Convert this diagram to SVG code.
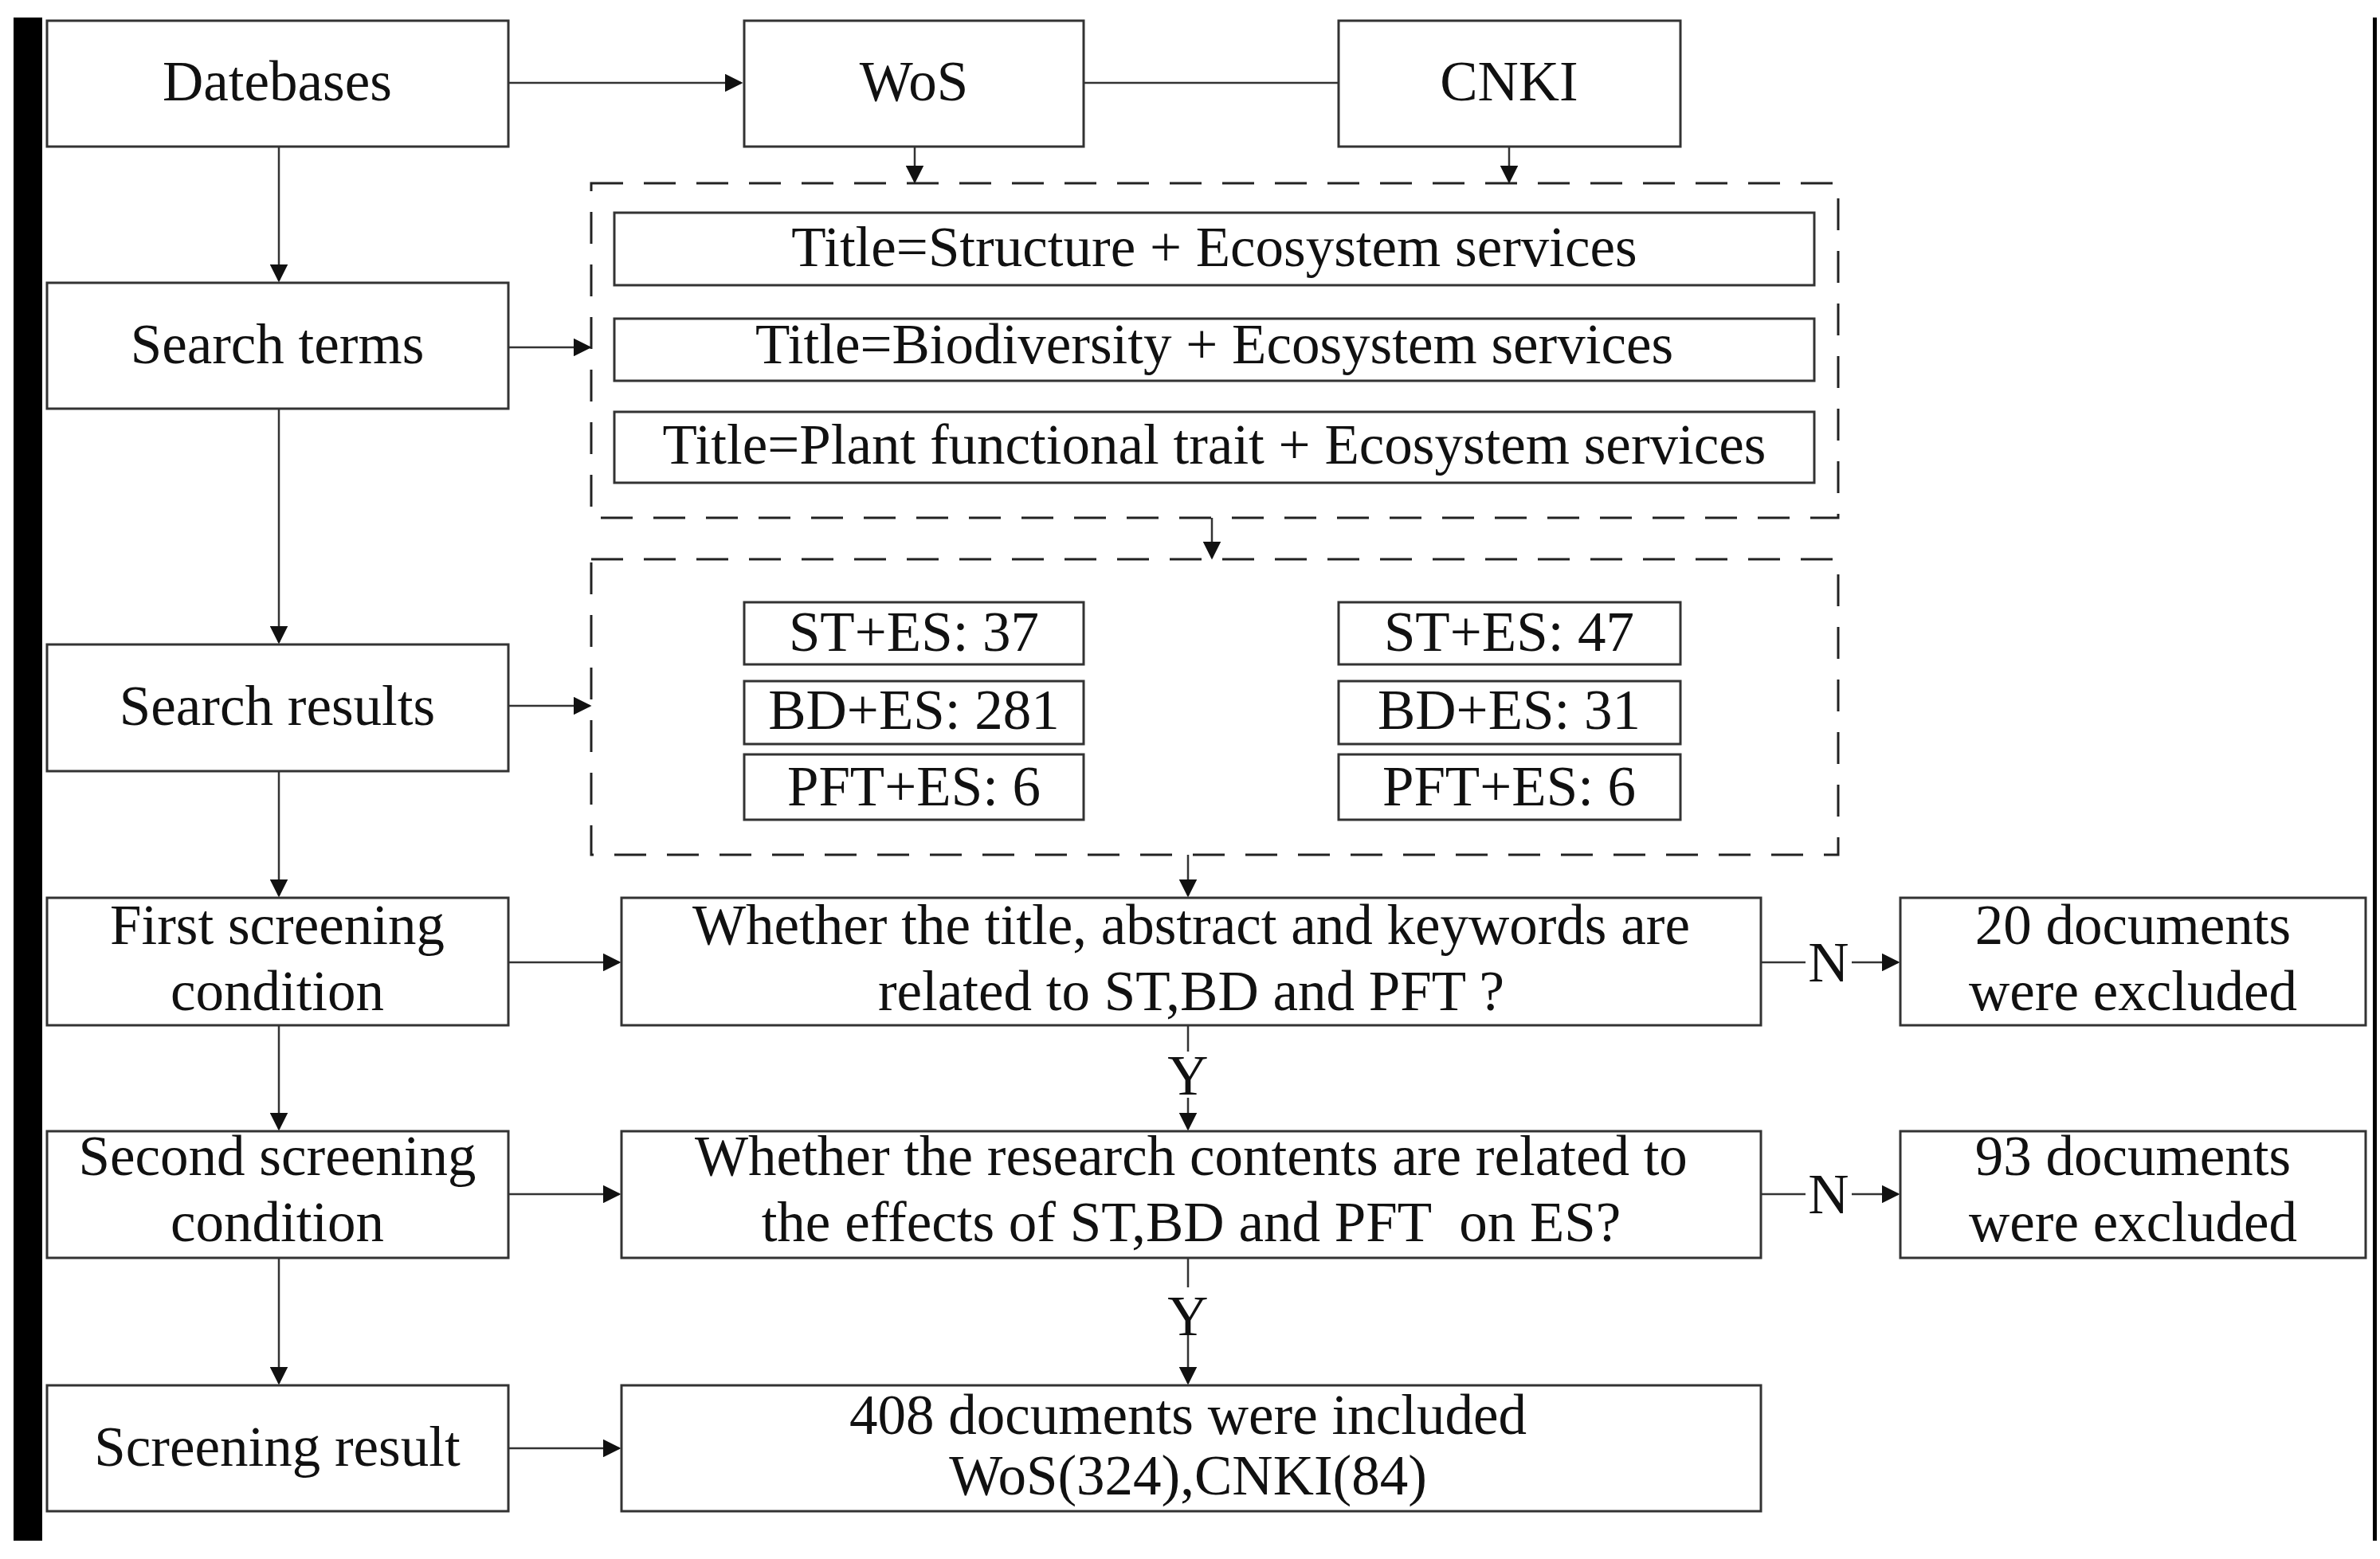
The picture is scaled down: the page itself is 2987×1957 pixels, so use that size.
<svg xmlns="http://www.w3.org/2000/svg" width="2987" height="1957" viewBox="0 0 2987 1957">
<defs>
<style>
.b{fill:#fff;stroke:#333;stroke-width:3}
.d{fill:none;stroke:#222;stroke-width:3;stroke-dasharray:40 26}
.c{fill:none;stroke:#333;stroke-width:2.5}
text{font-family:"Liberation Serif",serif;font-size:71px;fill:#111;text-anchor:middle}
</style>
<marker id="a" markerWidth="9" markerHeight="9" refX="8" refY="4.5" orient="auto" markerUnits="strokeWidth"><path d="M0,0L9,4.5L0,9z" fill="#111"/></marker>
</defs>
<rect width="2987" height="1957" fill="#fff"/>
<rect x="17" y="22" width="36" height="1912" fill="#000"/>
<rect x="2978" y="22" width="5" height="1912" fill="#000"/>
<g id="dash1"><rect class="d" x="742" y="230" width="1565" height="420"/></g>
<g id="dash2"><rect class="d" x="742" y="702" width="1565" height="371"/></g>
<g id="connectors" class="c">
<path d="M638,104H930" marker-end="url(#a)"/>
<path d="M1360,104H1680"/>
<path d="M1148,184V228" marker-end="url(#a)"/>
<path d="M1894,184V228" marker-end="url(#a)"/>
<path d="M350,184V352" marker-end="url(#a)"/>
<path d="M350,513V806" marker-end="url(#a)"/>
<path d="M350,968V1124" marker-end="url(#a)"/>
<path d="M350,1287V1417" marker-end="url(#a)"/>
<path d="M350,1579V1736" marker-end="url(#a)"/>
<path d="M638,436H740" marker-end="url(#a)"/>
<path d="M638,886H740" marker-end="url(#a)"/>
<path d="M638,1208H777" marker-end="url(#a)"/>
<path d="M638,1499H777" marker-end="url(#a)"/>
<path d="M638,1818H777" marker-end="url(#a)"/>
<path d="M1521,650V700" marker-end="url(#a)"/>
<path d="M1491,1073V1124" marker-end="url(#a)"/>
<path d="M1491,1287V1320M1491,1378V1417" marker-end="url(#a)"/>
<path d="M1491,1579V1616M1491,1676V1736" marker-end="url(#a)"/>
<path d="M2210,1208H2266M2324,1208H2382" marker-end="url(#a)"/>
<path d="M2210,1499H2266M2324,1499H2382" marker-end="url(#a)"/>
</g>
<g id="labels">
<text x="1491" y="1374">Y</text>
<text x="1491" y="1676">Y</text>
<text x="2295" y="1232">N</text>
<text x="2295" y="1523">N</text>
</g>
<g id="databases"><rect class="b" x="59" y="26" width="579" height="158"/><text x="348" y="126">Datebases</text></g>
<g id="wos"><rect class="b" x="934" y="26" width="426" height="158"/><text x="1147" y="126">WoS</text></g>
<g id="cnki"><rect class="b" x="1680" y="26" width="429" height="158"/><text x="1894" y="126">CNKI</text></g>
<g id="searchterms"><rect class="b" x="59" y="355" width="579" height="158"/><text x="348" y="456">Search terms</text></g>
<g id="t1"><rect class="b" x="771" y="267" width="1506" height="91"/><text x="1524" y="334">Title=Structure + Ecosystem services</text></g>
<g id="t2"><rect class="b" x="771" y="400" width="1506" height="78"/><text x="1524" y="456">Title=Biodiversity + Ecosystem services</text></g>
<g id="t3"><rect class="b" x="771" y="517" width="1506" height="89"/><text x="1524" y="582">Title=Plant functional trait + Ecosystem services</text></g>
<g id="searchresults"><rect class="b" x="59" y="809" width="579" height="159"/><text x="348" y="910">Search results</text></g>
<g id="w1"><rect class="b" x="934" y="756" width="426" height="78"/><text x="1147" y="817">ST+ES: 37</text></g>
<g id="w2"><rect class="b" x="934" y="855" width="426" height="79"/><text x="1147" y="915">BD+ES: 281</text></g>
<g id="w3"><rect class="b" x="934" y="947" width="426" height="82"/><text x="1147" y="1011">PFT+ES: 6</text></g>
<g id="c1"><rect class="b" x="1680" y="756" width="429" height="78"/><text x="1894" y="817">ST+ES: 47</text></g>
<g id="c2"><rect class="b" x="1680" y="855" width="429" height="79"/><text x="1894" y="915">BD+ES: 31</text></g>
<g id="c3"><rect class="b" x="1680" y="947" width="429" height="82"/><text x="1894" y="1011">PFT+ES: 6</text></g>
<g id="first"><rect class="b" x="59" y="1127" width="579" height="160"/><text x="348" y="1185">First screening</text><text x="348" y="1268">condition</text></g>
<g id="q1"><rect class="b" x="780" y="1127" width="1430" height="160"/><text x="1495" y="1185">Whether the title, abstract and keywords are</text><text x="1495" y="1268">related to ST,BD and PFT ?</text></g>
<g id="ex1"><rect class="b" x="2385" y="1127" width="584" height="160"/><text x="2677" y="1185">20 documents</text><text x="2677" y="1268">were excluded</text></g>
<g id="second"><rect class="b" x="59" y="1420" width="579" height="159"/><text x="348" y="1475">Second screening</text><text x="348" y="1558">condition</text></g>
<g id="q2"><rect class="b" x="780" y="1420" width="1430" height="159"/><text x="1495" y="1475">Whether the research contents are related to</text><text x="1495" y="1558" xml:space="preserve">the effects of ST,BD and PFT  on ES?</text></g>
<g id="ex2"><rect class="b" x="2385" y="1420" width="584" height="159"/><text x="2677" y="1475">93 documents</text><text x="2677" y="1558">were excluded</text></g>
<g id="result"><rect class="b" x="59" y="1739" width="579" height="158"/><text x="348" y="1840">Screening result</text></g>
<g id="included"><rect class="b" x="780" y="1739" width="1430" height="158"/><text x="1491" y="1800">408 documents were included</text><text x="1491" y="1876">WoS(324),CNKI(84)</text></g>
</svg>
